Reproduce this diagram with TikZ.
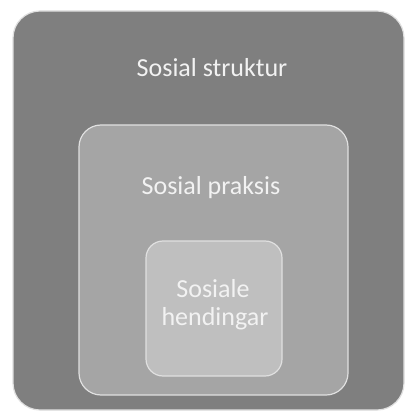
\documentclass[tikz,border=0pt]{standalone}
\usepackage{fontspec}
\setmainfont{Carlito}
\definecolor{outerfill}{HTML}{7F7F7F}
\definecolor{midfill}{HTML}{A5A5A5}
\definecolor{innerfill}{HTML}{BFBFBF}
\definecolor{edgecol}{HTML}{E0E0E0}
\definecolor{txtcol}{HTML}{F2F2F2}
\tikzset{
  box/.style={draw=edgecol, line width=1.2pt, inner sep=0pt, rectangle},
  lbl/.style={text=txtcol, font=\fontsize{26}{28}\selectfont, anchor=base, inner sep=0pt}
}
\begin{document}
\begin{tikzpicture}[x=1pt,y=-1pt]
\useasboundingbox[fill=white] (0,0) rectangle (405,411);
\node[box, fill=outerfill, rounded corners=27pt, minimum width=391pt, minimum height=399pt] (outer) at (208.5,210.5) {};
\node[box, fill=midfill, rounded corners=22pt, minimum width=269pt, minimum height=270pt] (middle) at (213.5,260) {};
\node[box, fill=innerfill, rounded corners=17pt, minimum width=136pt, minimum height=135pt] (inner) at (214,308.5) {};
\node[lbl] (t1) at (212,77) {Sosial struktur};
\node[lbl] (t2) at (211,195) {Sosial praksis};
\node[lbl] (t3) at (213,297) {Sosiale};
\node[lbl] (t4) at (215,325) {hendingar};
\end{tikzpicture}
\end{document}
